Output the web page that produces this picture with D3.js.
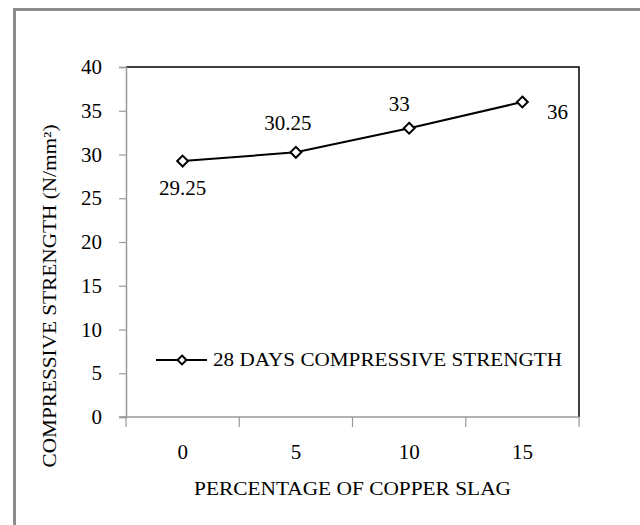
<!DOCTYPE html>
<html>
<head>
<meta charset="utf-8">
<script src="https://cdn.jsdelivr.net/npm/d3@7"></script>
<style>
  html, body { margin: 0; padding: 0; background: #fff; }
  svg { display: block; }
</style>
</head>
<body>
<svg id="chart" width="640" height="525"></svg>
<script>
// Copper slag replacement levels (%) and 28-day compressive strength (N/mm²)
const categories = ["0", "5", "10", "15"];
const strength = [29.25, 30.25, 33, 36];
const yTicks = [0, 5, 10, 15, 20, 25, 30, 35, 40];
const seriesName = "28 DAYS COMPRESSIVE STRENGTH";
const xTitle = "PERCENTAGE OF COPPER SLAG";
const yTitle = "COMPRESSIVE STRENGTH (N/mm²)";

const SERIF = "'Liberation Serif', 'Times New Roman', serif";
const svg = d3.select("#chart");
const plot = { left: 126, right: 579, top: 67, bottom: 417 };

// outer chart frame (runs off the right and bottom edges)
svg.append("rect")
  .attr("x", 14.5).attr("y", 9.5)
  .attr("width", 700).attr("height", 600)
  .attr("fill", "#fff")
  .attr("stroke", "#8c8c8c").attr("stroke-width", 3);

const x = d3.scaleBand().domain(categories).range([plot.left, plot.right]);
const y = d3.scaleLinear().domain([0, 40]).range([plot.bottom, plot.top]);

// plot area frame: top and right edges in black
svg.append("path")
  .attr("d", `M${plot.left},${plot.top}H${plot.right}V${plot.bottom}`)
  .attr("fill", "none").attr("stroke", "#000").attr("stroke-width", 1.5);

// y axis
const yAxis = svg.append("g")
  .attr("transform", `translate(${plot.left},0)`)
  .call(d3.axisLeft(y).tickValues(yTicks).tickSize(7).tickPadding(17));
yAxis.select(".domain").attr("stroke", "#999").attr("stroke-width", 1.5);
yAxis.selectAll(".tick line").attr("stroke", "#999").attr("stroke-width", 1.2);
yAxis.selectAll(".tick text")
  .style("font-family", SERIF).style("font-size", "21px").attr("fill", "#000");

// x axis: ticks sit between categories
const xAxisG = svg.append("g").attr("transform", `translate(0,${plot.bottom})`);
xAxisG.append("line")
  .attr("x1", plot.left - 7).attr("x2", plot.right)
  .attr("stroke", "#999").attr("stroke-width", 1.5);
const bounds = categories.map(c => x(c)).concat([x(categories[categories.length - 1]) + x.bandwidth()]);
xAxisG.selectAll("line.tk").data(bounds).join("line")
  .attr("class", "tk")
  .attr("x1", d => d).attr("x2", d => d)
  .attr("y1", 0).attr("y2", 10)
  .attr("stroke", "#999").attr("stroke-width", 1.2);
xAxisG.selectAll("text").data(categories).join("text")
  .attr("x", d => x(d) + x.bandwidth() / 2)
  .attr("y", 35)
  .attr("dy", "0.35em")
  .attr("text-anchor", "middle")
  .style("font-family", SERIF).style("font-size", "21px")
  .text(d => d);

// axis titles
svg.append("text")
  .attr("x", (plot.left + plot.right) / 2).attr("y", 489)
  .attr("dy", "0.35em").attr("text-anchor", "middle")
  .attr("textLength", 317).attr("lengthAdjust", "spacingAndGlyphs")
  .style("font-family", SERIF).style("font-size", "18px")
  .text(xTitle);

svg.append("text")
  .attr("transform", "translate(50,296) rotate(-90)")
  .attr("dy", "0.35em").attr("text-anchor", "middle")
  .attr("textLength", 343).attr("lengthAdjust", "spacingAndGlyphs")
  .style("font-family", SERIF).style("font-size", "18px")
  .text(yTitle);

// series line
const cx = d => x(d) + x.bandwidth() / 2;
const pts = categories.map((c, i) => [cx(c), y(strength[i])]);
svg.append("path")
  .attr("d", d3.line()(pts))
  .attr("fill", "none").attr("stroke", "#000").attr("stroke-width", 2);

const diamond = d3.symbol().type(d3.symbolDiamond2).size(75);
svg.selectAll("path.mk").data(pts).join("path")
  .attr("class", "mk")
  .attr("transform", d => `translate(${d[0]},${d[1]})`)
  .attr("d", diamond)
  .attr("fill", "#fff").attr("stroke", "#000").attr("stroke-width", 2);

// value labels
const labelOffsets = [[0, 27], [-8, -30], [-10, -25], [35, 10]];
svg.selectAll("text.val").data(strength).join("text")
  .attr("class", "val")
  .attr("x", (d, i) => pts[i][0] + labelOffsets[i][0])
  .attr("y", (d, i) => pts[i][1] + labelOffsets[i][1])
  .attr("dy", "0.35em").attr("text-anchor", "middle")
  .style("font-family", SERIF).style("font-size", "21px")
  .text(d => d);

// legend
const legY = 360;
const leg = svg.append("g");
leg.append("line")
  .attr("x1", 156).attr("x2", 207).attr("y1", legY).attr("y2", legY)
  .attr("stroke", "#000").attr("stroke-width", 2);
leg.append("path")
  .attr("transform", `translate(182,${legY})`)
  .attr("d", d3.symbol().type(d3.symbolDiamond2).size(50))
  .attr("fill", "#fff").attr("stroke", "#000").attr("stroke-width", 2);
leg.append("text")
  .attr("x", 213).attr("y", legY).attr("dy", "0.35em")
  .attr("textLength", 349).attr("lengthAdjust", "spacingAndGlyphs")
  .style("font-family", SERIF).style("font-size", "18px")
  .text(seriesName);
</script>
</body>
</html>
